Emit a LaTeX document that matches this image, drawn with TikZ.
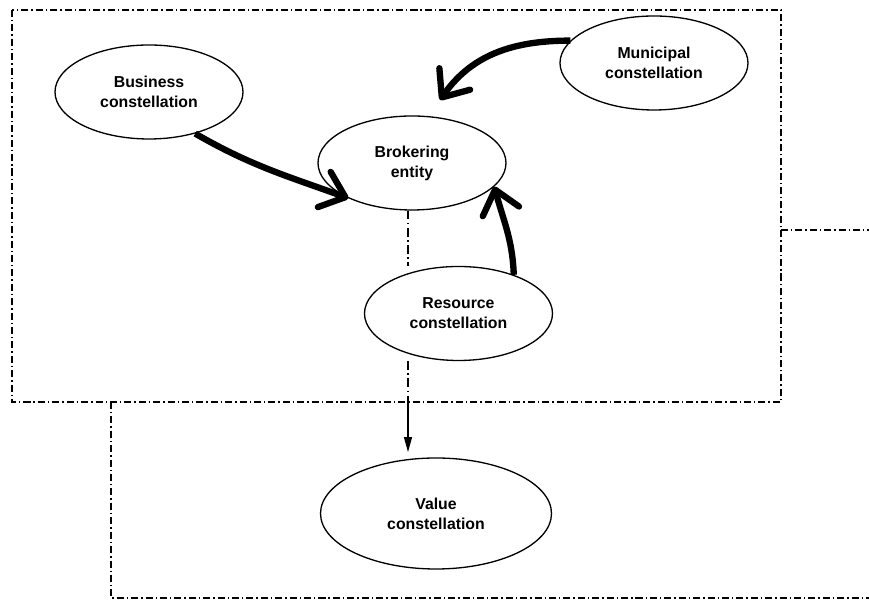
\documentclass[tikz,border=0pt]{standalone}
\usepackage{fontspec}
\setmainfont{Liberation Sans}
\usetikzlibrary{shapes.geometric,arrows.meta}

\begin{document}
\begin{tikzpicture}[
  blob/.style={draw,ellipse,line width=0.75pt,inner sep=0pt,minimum width=3.76cm,minimum height=1.88cm,align=center,font=\fontsize{9}{11.3}\selectfont\bfseries},
  flow/.style={line width=3.6pt,-{Straight Barb[length=0.45cm,width=0.75cm,round]}},
  border/.style={line width=0.85pt,dash pattern=on 4pt off 1.7pt on 0.8pt off 1.7pt},
  link/.style={line width=0.6pt,dash pattern=on 5pt off 2pt on 0.8pt off 2pt}]
  \useasboundingbox (0,0) rectangle (17.38,12.02);
    % boundaries
    \draw[border](0.24,11.82) rectangle (15.62,3.98);
    \draw[border](15.62,7.42)--(17.38,7.42);
    \draw[border](2.22,3.98)--(2.22,0.06)--(17.38,0.06);
    % constellations
    \node[blob] (bus) at (2.98,10.18) {Business\\constellation};
    \node[blob] (brk) at (8.24,8.76) {Brokering\\entity};
    \node[blob] (mun) at (13.08,10.76) {Municipal\\constellation};
    \node[blob] (res) at (9.17,5.75) {Resource\\constellation};
    \node[blob,minimum width=4.62cm,minimum height=2.22cm] (val) at (8.72,1.75) {Value\\constellation};
    % connectors
    \coordinate (mtip) at (8.8,10.02);
    \coordinate (exit) at (8.16,3.98);
    \draw[flow](bus.-42) to[out=-30,in=160] (brk.209);
    \draw[flow](mun.165) to[out=180,in=55] (mtip);
    \draw[flow](res.35) to[out=92,in=-75] (brk.-16);
    \draw[link](exit |- brk.south)--(exit |- res.north);
    \draw[link](exit |- res.south)--(exit);
    \draw[line width=0.6pt,-{Triangle[length=0.3cm,width=0.16cm]}](exit)--([yshift=3pt]exit |- val.north);
\end{tikzpicture}
\end{document}
